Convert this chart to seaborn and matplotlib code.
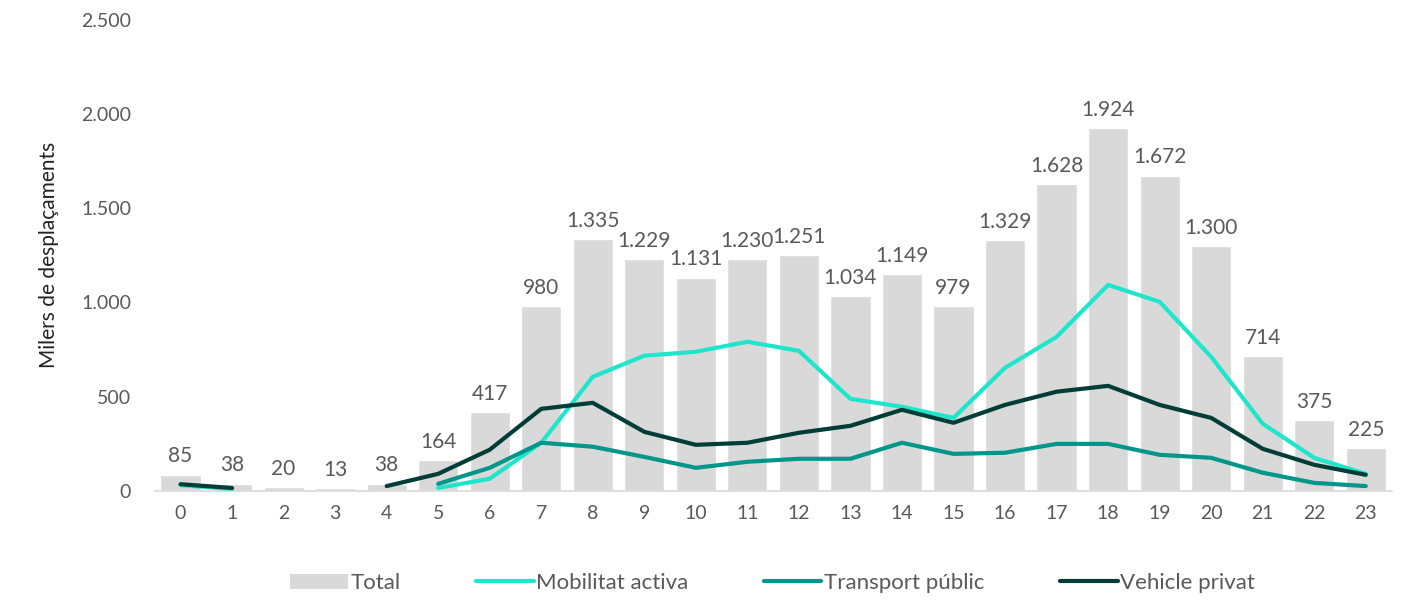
import numpy as np
import pandas as pd
import matplotlib
matplotlib.use("Agg")
import matplotlib.pyplot as plt
import seaborn as sns
from matplotlib.patches import Patch
from matplotlib.lines import Line2D

# data (milers de desplaçaments per hora)
hours = list(range(24))
total = [85, 38, 20, 13, 38, 164, 417, 980, 1335, 1229, 1131, 1230, 1251, 1034,
         1149, 979, 1329, 1628, 1924, 1672, 1300, 714, 375, 225]
nan = np.nan
mobilitat = [30, 10, nan, nan, nan, 15, 64, 255, 605, 717, 738, 791, 743, 488,
             446, 387, 653, 817, 1093, 1003, 711, 356, 175, 90]
transport = [nan, nan, nan, nan, nan, 37, 122, 255, 234, 180, 122, 154, 170, 170,
             255, 196, 202, 249, 249, 191, 175, 96, 42, 25]
vehicle = [35, 15, nan, nan, 25, 90, 218, 435, 467, 313, 244, 255, 308, 345,
           430, 361, 456, 526, 557, 456, 387, 223, 138, 85]

series_names = ["Mobilitat activa", "Transport públic", "Vehicle privat"]
series_colors = ["#1ee6cc", "#00968a", "#003d36"]
bar_color = "#d9d9d9"
text_color = "#595959"

sns.set_style("white")
plt.rcParams['font.family'] = ['Lato', 'DejaVu Sans']

fig = plt.figure(figsize=(14.07, 6), dpi=100)
ax = fig.add_axes([0.110, 0.182, 0.879, 0.785])

df = pd.DataFrame({"hour": hours, "total": total})
sns.barplot(data=df, x="hour", y="total", color=bar_color, width=0.78,
            saturation=1, ax=ax, zorder=1)

labels = [f"{v:,}".replace(",", ".") for v in total]
ax.bar_label(ax.containers[0], labels=labels, padding=6, fontsize=15,
             color=text_color)

# lines, split where data is missing so gaps stay open
for name, vals, col in zip(series_names, [mobilitat, transport, vehicle], series_colors):
    s = pd.Series(vals, index=hours)
    seg = s.isna().cumsum()
    d = pd.DataFrame({"hour": hours, "val": vals, "seg": seg}).dropna()
    for _, part in d.groupby("seg"):
        sns.lineplot(data=part, x="hour", y="val", color=col, linewidth=3,
                     ax=ax, zorder=3)

ax.set_xlim(-0.5, 23.5)
ax.set_ylim(0, 2500)
ax.set_yticks(range(0, 2501, 500))
ax.set_yticklabels([f"{v:,}".replace(",", ".") for v in range(0, 2501, 500)])
ax.set_xticks(hours)
ax.set_xticklabels([str(h) for h in hours])
ax.tick_params(axis="both", labelsize=14, labelcolor=text_color, length=0)
ax.tick_params(axis="y", pad=17)
ax.tick_params(axis="x", pad=10)
ax.set_xlabel("")
ax.set_ylabel("Milers de desplaçaments", fontsize=15, color="#222222", labelpad=16)

for sp in ["top", "right", "left"]:
    ax.spines[sp].set_visible(False)
ax.spines["bottom"].set_color("#d9d9d9")
ax.spines["bottom"].set_linewidth(1.2)

handles = [Patch(facecolor=bar_color, edgecolor="none", label="Total")]
handles += [Line2D([0], [0], color=c, linewidth=3, label=n)
            for n, c in zip(series_names, series_colors)]
fig.legend(handles=handles, loc="center", bbox_to_anchor=(0.549, 0.028), ncol=4,
           frameon=False, fontsize=16, labelcolor=text_color, handlelength=2.6,
           handletextpad=0.1, columnspacing=3.4)

fig.savefig("out.png", dpi=100)
